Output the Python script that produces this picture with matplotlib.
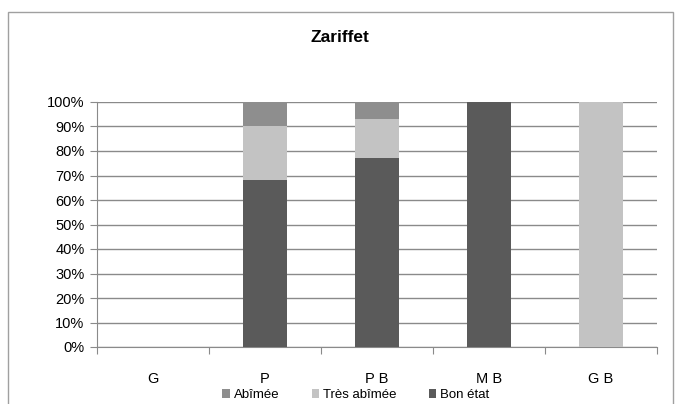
import numpy as np
import matplotlib.pyplot as plt
from matplotlib.patches import Rectangle

categories = ['G', 'P', 'P B', 'M B', 'G B']
bon_etat = [0, 68, 77, 100, 0]
tres_abimee = [0, 22, 16, 0, 100]
abimee = [0, 10, 7, 0, 0]

c_bon = '#5a5a5a'
c_tres = '#c3c3c3'
c_abi = '#8e8e8e'

plt.rcParams['font.family'] = ['Liberation Sans', 'DejaVu Sans']

fig = plt.figure(figsize=(6.79, 4.04), dpi=100)
fig.patches.append(Rectangle((8 / 679, -0.02), 665 / 679, 1 - 12 / 404 + 0.02,
                             transform=fig.transFigure, fill=False,
                             edgecolor='#a0a0a0', linewidth=1))

ax = fig.add_axes([97 / 679, 1 - 347 / 404, 560 / 679, 245 / 404])
x = np.arange(len(categories))
w = 0.4
bon = np.array(bon_etat)
tres = np.array(tres_abimee)
abi = np.array(abimee)
ax.bar(x, bon, w, color=c_bon, label='Bon état', zorder=3)
ax.bar(x, tres, w, bottom=bon, color=c_tres, label='Très abîmée', zorder=3)
ax.bar(x, abi, w, bottom=bon + tres, color=c_abi, label='Abîmée', zorder=3)

ax.set_xlim(-0.5, len(categories) - 0.5)
ax.set_ylim(0, 100)
ax.set_yticks(np.arange(0, 101, 10))
ax.set_yticklabels([f'{v}%' for v in range(0, 101, 10)], fontsize=10.5)
ax.yaxis.grid(True, color='#8a8a8a', linewidth=1, zorder=0)
ax.set_xticks(np.arange(-0.5, len(categories), 1))
ax.set_xticklabels([])
ax.set_xticks(x, minor=True)
ax.set_xticklabels(categories, minor=True, fontsize=10.5)
ax.tick_params(axis='x', which='major', length=5, color='#8a8a8a', direction='out')
ax.tick_params(axis='x', which='minor', length=0, pad=18)
ax.tick_params(axis='y', length=5, color='#8a8a8a', pad=4)
for s in ['top', 'right']:
    ax.spines[s].set_visible(False)
ax.spines['left'].set_color('#8a8a8a')
ax.spines['bottom'].set_color('#8a8a8a')

fig.text(0.5, 1 - 38 / 404, 'Zariffet', ha='center', va='center',
         fontsize=12.5, fontweight='bold', family=['Liberation Sans Narrow', 'Liberation Sans'])

h, l = ax.get_legend_handles_labels()
fig.legend(h[::-1], l[::-1], loc='center', bbox_to_anchor=(356 / 679, 1 - 395 / 404),
           ncol=3, frameon=False, fontsize=9.5, handlelength=0.6, handleheight=0.6,
           handletextpad=0.3, columnspacing=2.4, borderpad=0)

fig.savefig('out.png', dpi=100)
